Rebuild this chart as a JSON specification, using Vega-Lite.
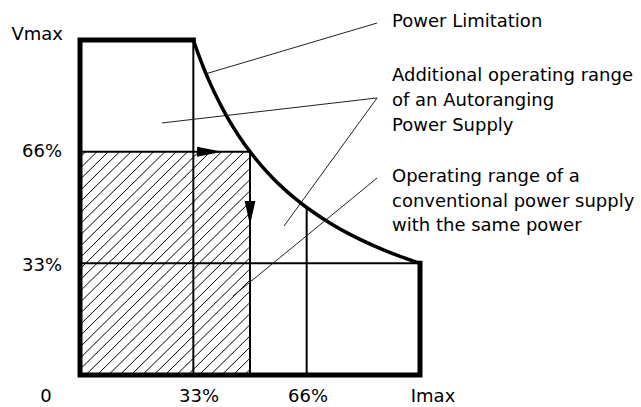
{
  "$schema": "https://vega.github.io/schema/vega-lite/v6.json",
  "width": 641,
  "height": 407,
  "padding": 0,
  "autosize": {"type": "none"},
  "background": "white",
  "config": {"view": {"stroke": null}},
  "datasets": {
    "hatch": [
      {"x": 0, "y": 1.95, "x2": 0.05, "y2": 2},
      {"x": 0, "y": 1.85, "x2": 0.15, "y2": 2},
      {"x": 0, "y": 1.75, "x2": 0.25, "y2": 2},
      {"x": 0, "y": 1.65, "x2": 0.35, "y2": 2},
      {"x": 0, "y": 1.55, "x2": 0.45, "y2": 2},
      {"x": 0, "y": 1.45, "x2": 0.55, "y2": 2},
      {"x": 0, "y": 1.35, "x2": 0.65, "y2": 2},
      {"x": 0, "y": 1.25, "x2": 0.75, "y2": 2},
      {"x": 0, "y": 1.15, "x2": 0.85, "y2": 2},
      {"x": 0, "y": 1.05, "x2": 0.95, "y2": 2},
      {"x": 0, "y": 0.95, "x2": 1.05, "y2": 2},
      {"x": 0, "y": 0.85, "x2": 1.15, "y2": 2},
      {"x": 0, "y": 0.75, "x2": 1.25, "y2": 2},
      {"x": 0, "y": 0.65, "x2": 1.35, "y2": 2},
      {"x": 0, "y": 0.55, "x2": 1.45, "y2": 2},
      {"x": 0, "y": 0.45, "x2": 1.5, "y2": 1.95},
      {"x": 0, "y": 0.35, "x2": 1.5, "y2": 1.85},
      {"x": 0, "y": 0.25, "x2": 1.5, "y2": 1.75},
      {"x": 0, "y": 0.15, "x2": 1.5, "y2": 1.65},
      {"x": 0, "y": 0.05, "x2": 1.5, "y2": 1.55},
      {"x": 0.05, "y": 0, "x2": 1.5, "y2": 1.45},
      {"x": 0.15, "y": 0, "x2": 1.5, "y2": 1.35},
      {"x": 0.25, "y": 0, "x2": 1.5, "y2": 1.25},
      {"x": 0.35, "y": 0, "x2": 1.5, "y2": 1.15},
      {"x": 0.45, "y": 0, "x2": 1.5, "y2": 1.05},
      {"x": 0.55, "y": 0, "x2": 1.5, "y2": 0.95},
      {"x": 0.65, "y": 0, "x2": 1.5, "y2": 0.85},
      {"x": 0.75, "y": 0, "x2": 1.5, "y2": 0.75},
      {"x": 0.85, "y": 0, "x2": 1.5, "y2": 0.65},
      {"x": 0.95, "y": 0, "x2": 1.5, "y2": 0.55},
      {"x": 1.05, "y": 0, "x2": 1.5, "y2": 0.45},
      {"x": 1.15, "y": 0, "x2": 1.5, "y2": 0.35},
      {"x": 1.25, "y": 0, "x2": 1.5, "y2": 0.25},
      {"x": 1.35, "y": 0, "x2": 1.5, "y2": 0.15},
      {"x": 1.45, "y": 0, "x2": 1.5, "y2": 0.05}
    ],
    "grid": [
      {"x": 1, "y": 0, "x2": 1, "y2": 3},
      {"x": 0, "y": 2, "x2": 1.5, "y2": 2},
      {"x": 1.5, "y": 0, "x2": 1.5, "y2": 2},
      {"x": 0, "y": 1, "x2": 3, "y2": 1},
      {"x": 2, "y": 0, "x2": 2, "y2": 1.5}
    ],
    "leaders": [
      {"x": 1.12, "y": 2.70, "x2": 2.621, "y2": 3.152},
      {"x": 0.724, "y": 2.257, "x2": 2.621, "y2": 2.481},
      {"x": 2.621, "y": 2.481, "x2": 1.80, "y2": 1.334},
      {"x": 2.621, "y": 1.764, "x2": 1.35, "y2": 0.707}
    ],
    "frame": [
      {"o": 1, "x": 3, "y": 1},
      {"o": 2, "x": 3, "y": 0},
      {"o": 3, "x": 0, "y": 0},
      {"o": 4, "x": 0, "y": 3},
      {"o": 5, "x": 1, "y": 3}
    ],
    "curve": [
      {"x": 1, "y": 3},
      {"x": 1.05, "y": 2.857},
      {"x": 1.1, "y": 2.727},
      {"x": 1.15, "y": 2.609},
      {"x": 1.2, "y": 2.5},
      {"x": 1.3, "y": 2.308},
      {"x": 1.4, "y": 2.143},
      {"x": 1.5, "y": 2.0},
      {"x": 1.6, "y": 1.875},
      {"x": 1.7, "y": 1.765},
      {"x": 1.8, "y": 1.667},
      {"x": 1.9, "y": 1.579},
      {"x": 2.0, "y": 1.5},
      {"x": 2.2, "y": 1.364},
      {"x": 2.4, "y": 1.25},
      {"x": 2.6, "y": 1.154},
      {"x": 2.8, "y": 1.071},
      {"x": 3.0, "y": 1.0}
    ],
    "arrowRight": [{"x": 1.143, "y": 2}],
    "arrowDown": [{"x": 1.5, "y": 1.451}],
    "labelsLeft": [
      {"x": 2.753, "y": 3.116, "t": "Power Limitation"},
      {"x": 2.753, "y": 2.635, "t": "Additional operating range"},
      {"x": 2.753, "y": 2.409, "t": "of an Autoranging"},
      {"x": 2.753, "y": 2.185, "t": "Power Supply"},
      {"x": 2.753, "y": 1.731, "t": "Operating range of a"},
      {"x": 2.753, "y": 1.507, "t": "conventional power supply"},
      {"x": 2.753, "y": 1.292, "t": "with the same power"}
    ],
    "labelsRight": [
      {"x": -0.15, "y": 3.004, "t": "Vmax"},
      {"x": -0.159, "y": 1.952, "t": "66%"},
      {"x": -0.159, "y": 0.931, "t": "33%"}
    ],
    "labelsBottom": [
      {"x": -0.30, "y": -0.245, "t": "0"},
      {"x": 1.05, "y": -0.245, "t": "33%"},
      {"x": 2.012, "y": -0.245, "t": "66%"},
      {"x": 3.115, "y": -0.245, "t": "Imax"}
    ]
  },
  "encoding": {
    "x": {"field": "x", "type": "quantitative", "scale": {"domain": [-0.706, 4.950], "nice": false, "zero": false}, "axis": null},
    "y": {"field": "y", "type": "quantitative", "scale": {"domain": [-0.2866, 3.3582], "nice": false, "zero": false}, "axis": null}
  },
  "layer": [
    {
      "data": {"name": "hatch"},
      "mark": {"type": "rule", "color": "#000", "strokeWidth": 1},
      "encoding": {"x2": {"field": "x2"}, "y2": {"field": "y2"}}
    },
    {
      "data": {"name": "grid"},
      "mark": {"type": "rule", "color": "#000", "strokeWidth": 2},
      "encoding": {"x2": {"field": "x2"}, "y2": {"field": "y2"}}
    },
    {
      "data": {"name": "leaders"},
      "mark": {"type": "rule", "color": "#222", "strokeWidth": 1},
      "encoding": {"x2": {"field": "x2"}, "y2": {"field": "y2"}}
    },
    {
      "data": {"name": "frame"},
      "mark": {"type": "line", "color": "#000", "strokeWidth": 5, "strokeJoin": "miter", "strokeCap": "square"},
      "encoding": {"order": {"field": "o", "type": "quantitative"}}
    },
    {
      "data": {"name": "curve"},
      "mark": {"type": "line", "color": "#000", "strokeWidth": 3.5, "interpolate": "monotone"},
      "encoding": {}
    },
    {
      "data": {"name": "arrowRight"},
      "mark": {"type": "point", "shape": "M-1,-0.4L1,0L-1,0.4Z", "filled": true, "color": "#000", "size": 625, "opacity": 1}
    },
    {
      "data": {"name": "arrowDown"},
      "mark": {"type": "point", "shape": "M-0.45,-1L0.45,-1L0,1Z", "filled": true, "color": "#000", "size": 576, "opacity": 1}
    },
    {
      "data": {"name": "labelsLeft"},
      "mark": {"type": "text", "align": "left", "baseline": "alphabetic", "font": "DejaVu Sans", "fontSize": 18, "color": "#000"},
      "encoding": {"text": {"field": "t", "type": "nominal"}}
    },
    {
      "data": {"name": "labelsRight"},
      "mark": {"type": "text", "align": "right", "baseline": "alphabetic", "font": "DejaVu Sans", "fontSize": 18, "color": "#000"},
      "encoding": {"text": {"field": "t", "type": "nominal"}}
    },
    {
      "data": {"name": "labelsBottom"},
      "mark": {"type": "text", "align": "center", "baseline": "alphabetic", "font": "DejaVu Sans", "fontSize": 18, "color": "#000"},
      "encoding": {"text": {"field": "t", "type": "nominal"}}
    }
  ]
}
